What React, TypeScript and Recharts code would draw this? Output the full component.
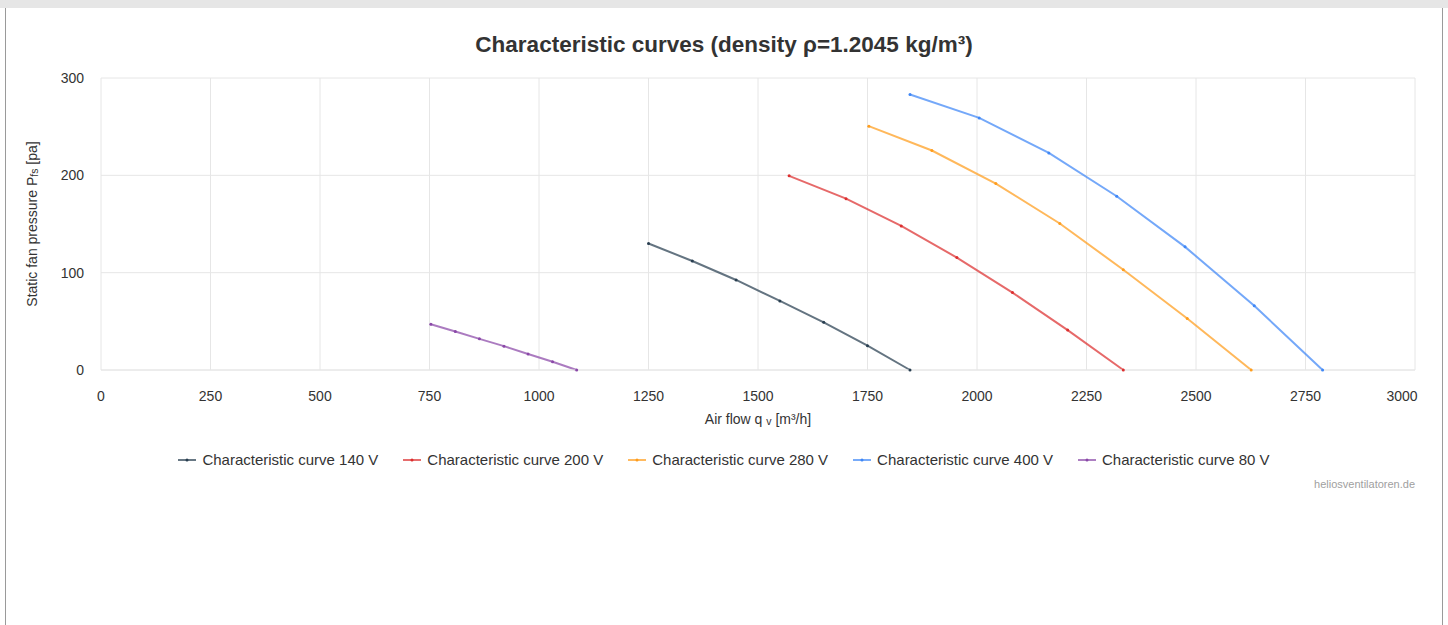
import React from 'react';
import { CartesianGrid, Label, Legend, Line, LineChart, XAxis, YAxis } from 'recharts';

// air flow [m³/h] and static pressure [pa] read per curve
const flow140 = [1250, 1350, 1450, 1550, 1650, 1750, 1847];
const pressure140 = [130, 112, 92.5, 71, 49, 25, 0];

const flow200 = [1571, 1701, 1827, 1954, 2081, 2207, 2334];
const pressure200 = [199.5, 176, 148, 115.5, 79.5, 41, 0];

const flow280 = [1753, 1897, 2043, 2189, 2334, 2480, 2626];
const pressure280 = [250.5, 225.5, 191.5, 150.5, 103, 53, 0];

const flow400 = [1847, 2005, 2164, 2319, 2475, 2633, 2789];
const pressure400 = [283, 259, 223, 178.5, 126.5, 66, 0];

const flow80 = [753, 809, 864, 920, 975, 1031, 1086];
const pressure80 = [47, 39.5, 32, 24.5, 16.5, 8.5, 0];

const xTicks = [0, 250, 500, 750, 1000, 1250, 1500, 1750, 2000, 2250, 2500, 2750, 3000];
const yTicks = [0, 100, 200, 300];

const toPoints = (xs: number[], ys: number[]) => xs.map((x, i) => ({ x, y: ys[i] }));

const series = [
  { name: 'Characteristic curve 140 V', color: '#283e50', data: toPoints(flow140, pressure140) },
  { name: 'Characteristic curve 200 V', color: '#dc2f2f', data: toPoints(flow200, pressure200) },
  { name: 'Characteristic curve 280 V', color: '#ff9d1c', data: toPoints(flow280, pressure280) },
  { name: 'Characteristic curve 400 V', color: '#3f87f6', data: toPoints(flow400, pressure400) },
  { name: 'Characteristic curve 80 V', color: '#8a48a8', data: toPoints(flow80, pressure80) },
];

const FONT = '"Liberation Sans", Arial, Helvetica, sans-serif';

const YLabel = ({ viewBox }: any) => {
  const cx = 32;
  const cy = viewBox ? viewBox.y + viewBox.height / 2 : 224;
  return (
    <text
      x={cx}
      y={cy}
      transform={`rotate(-90, ${cx}, ${cy})`}
      textAnchor='middle'
      dominantBaseline='central'
      fontSize={14}
      fill='#333'
      fontFamily={FONT}
    >
      Static fan pressure P
      <tspan fontSize={10.5} dy={2}>fs</tspan>
      <tspan dy={-2}> [pa]</tspan>
    </text>
  );
};

const XLabel = ({ viewBox }: any) => {
  const cx = viewBox ? viewBox.x + viewBox.width / 2 : 758;
  return (
    <text x={cx} y={424} textAnchor='middle' fontSize={14} fill='#333' fontFamily={FONT}>
      Air flow q <tspan fontSize={10.5} dy={1}>v</tspan>
      <tspan dy={-1}> [m³/h]</tspan>
    </text>
  );
};

// last x label is pulled inside the plot, like the original
const XTick = ({ x, y, payload }: any) => {
  const shift = payload.value === 3000 ? -13 : 0;
  return (
    <text x={x + shift} y={y} dy='0.71em' textAnchor='middle' fontSize={14} fill='#333' fontFamily={FONT}>
      {payload.value}
    </text>
  );
};

const LegendContent = () => (
  <div style={{ display: 'flex', justifyContent: 'center', gap: 25, fontFamily: FONT, fontSize: 15, color: '#333' }}>
    {series.map((s) => (
      <div key={s.name} style={{ display: 'flex', alignItems: 'center' }}>
        <svg width={18} height={10} style={{ marginRight: 6 }}>
          <line x1={0} y1={5} x2={18} y2={5} stroke={s.color} strokeWidth={2} strokeOpacity={0.7} />
          <circle cx={9} cy={5} r={1.5} fill={s.color} />
        </svg>
        <span>{s.name}</span>
      </div>
    ))}
  </div>
);

const App = () => {
  return (
    <div style={{ position: 'absolute', left: 0, top: 0, width: 1448, height: 625, background: '#fff', overflow: 'hidden' }}>
      <div style={{ position: 'absolute', left: 0, top: 0, width: 1448, height: 8, background: '#e6e6e6' }} />
      <div
        style={{
          position: 'absolute',
          left: 5,
          top: 8,
          width: 1436,
          height: 640,
          borderLeft: '1px solid #9a9a9a',
          borderRight: '1px solid #9a9a9a',
        }}
      />
      <div
        style={{
          position: 'absolute',
          left: 0,
          top: 32,
          width: 1448,
          textAlign: 'center',
          fontFamily: FONT,
          fontWeight: 'bold',
          fontSize: 22.5,
          color: '#333',
        }}
      >
        Characteristic curves (density ρ=1.2045 kg/m³)
      </div>
      <div style={{ position: 'absolute', top: 0, left: 0 }}>
        <LineChart width={1448} height={625} margin={{ top: 78, right: 33, left: 0, bottom: 225 }}>
          <CartesianGrid stroke='#e6e6e6' strokeWidth={1} />
          <XAxis
            dataKey='x'
            type='number'
            domain={[0, 3000]}
            ticks={xTicks}
            allowDataOverflow
            height={30}
            tickLine={false}
            axisLine={{ stroke: '#e6e6e6' }}
            tickMargin={15}
            tick={<XTick />}
          >
            <Label content={<XLabel />} />
          </XAxis>
          <YAxis
            dataKey='y'
            type='number'
            domain={[0, 300]}
            ticks={yTicks}
            width={101}
            tickLine={false}
            axisLine={false}
            tickMargin={11}
            tick={{ fontSize: 14, fill: '#333', fontFamily: FONT }}
          >
            <Label content={<YLabel />} />
          </YAxis>
          {series.map((s) => (
            <Line
              key={s.name}
              data={s.data}
              dataKey='y'
              name={s.name}
              type='linear'
              stroke={s.color}
              strokeWidth={2}
              strokeOpacity={0.72}
              dot={{ r: 1.5, fill: s.color, stroke: 'none' }}
              activeDot={false}
              isAnimationActive={false}
            />
          ))}
          <Legend
            layout='horizontal'
            verticalAlign='middle'
            align='center'
            content={<LegendContent />}
            wrapperStyle={{ position: 'absolute', top: 451, left: 0, width: 1448 }}
          />
        </LineChart>
      </div>
      <div
        style={{
          position: 'absolute',
          right: 33,
          top: 478,
          fontFamily: FONT,
          fontSize: 11,
          color: '#a0a0a0',
        }}
      >
        heliosventilatoren.de
      </div>
    </div>
  );
};

export default App;
